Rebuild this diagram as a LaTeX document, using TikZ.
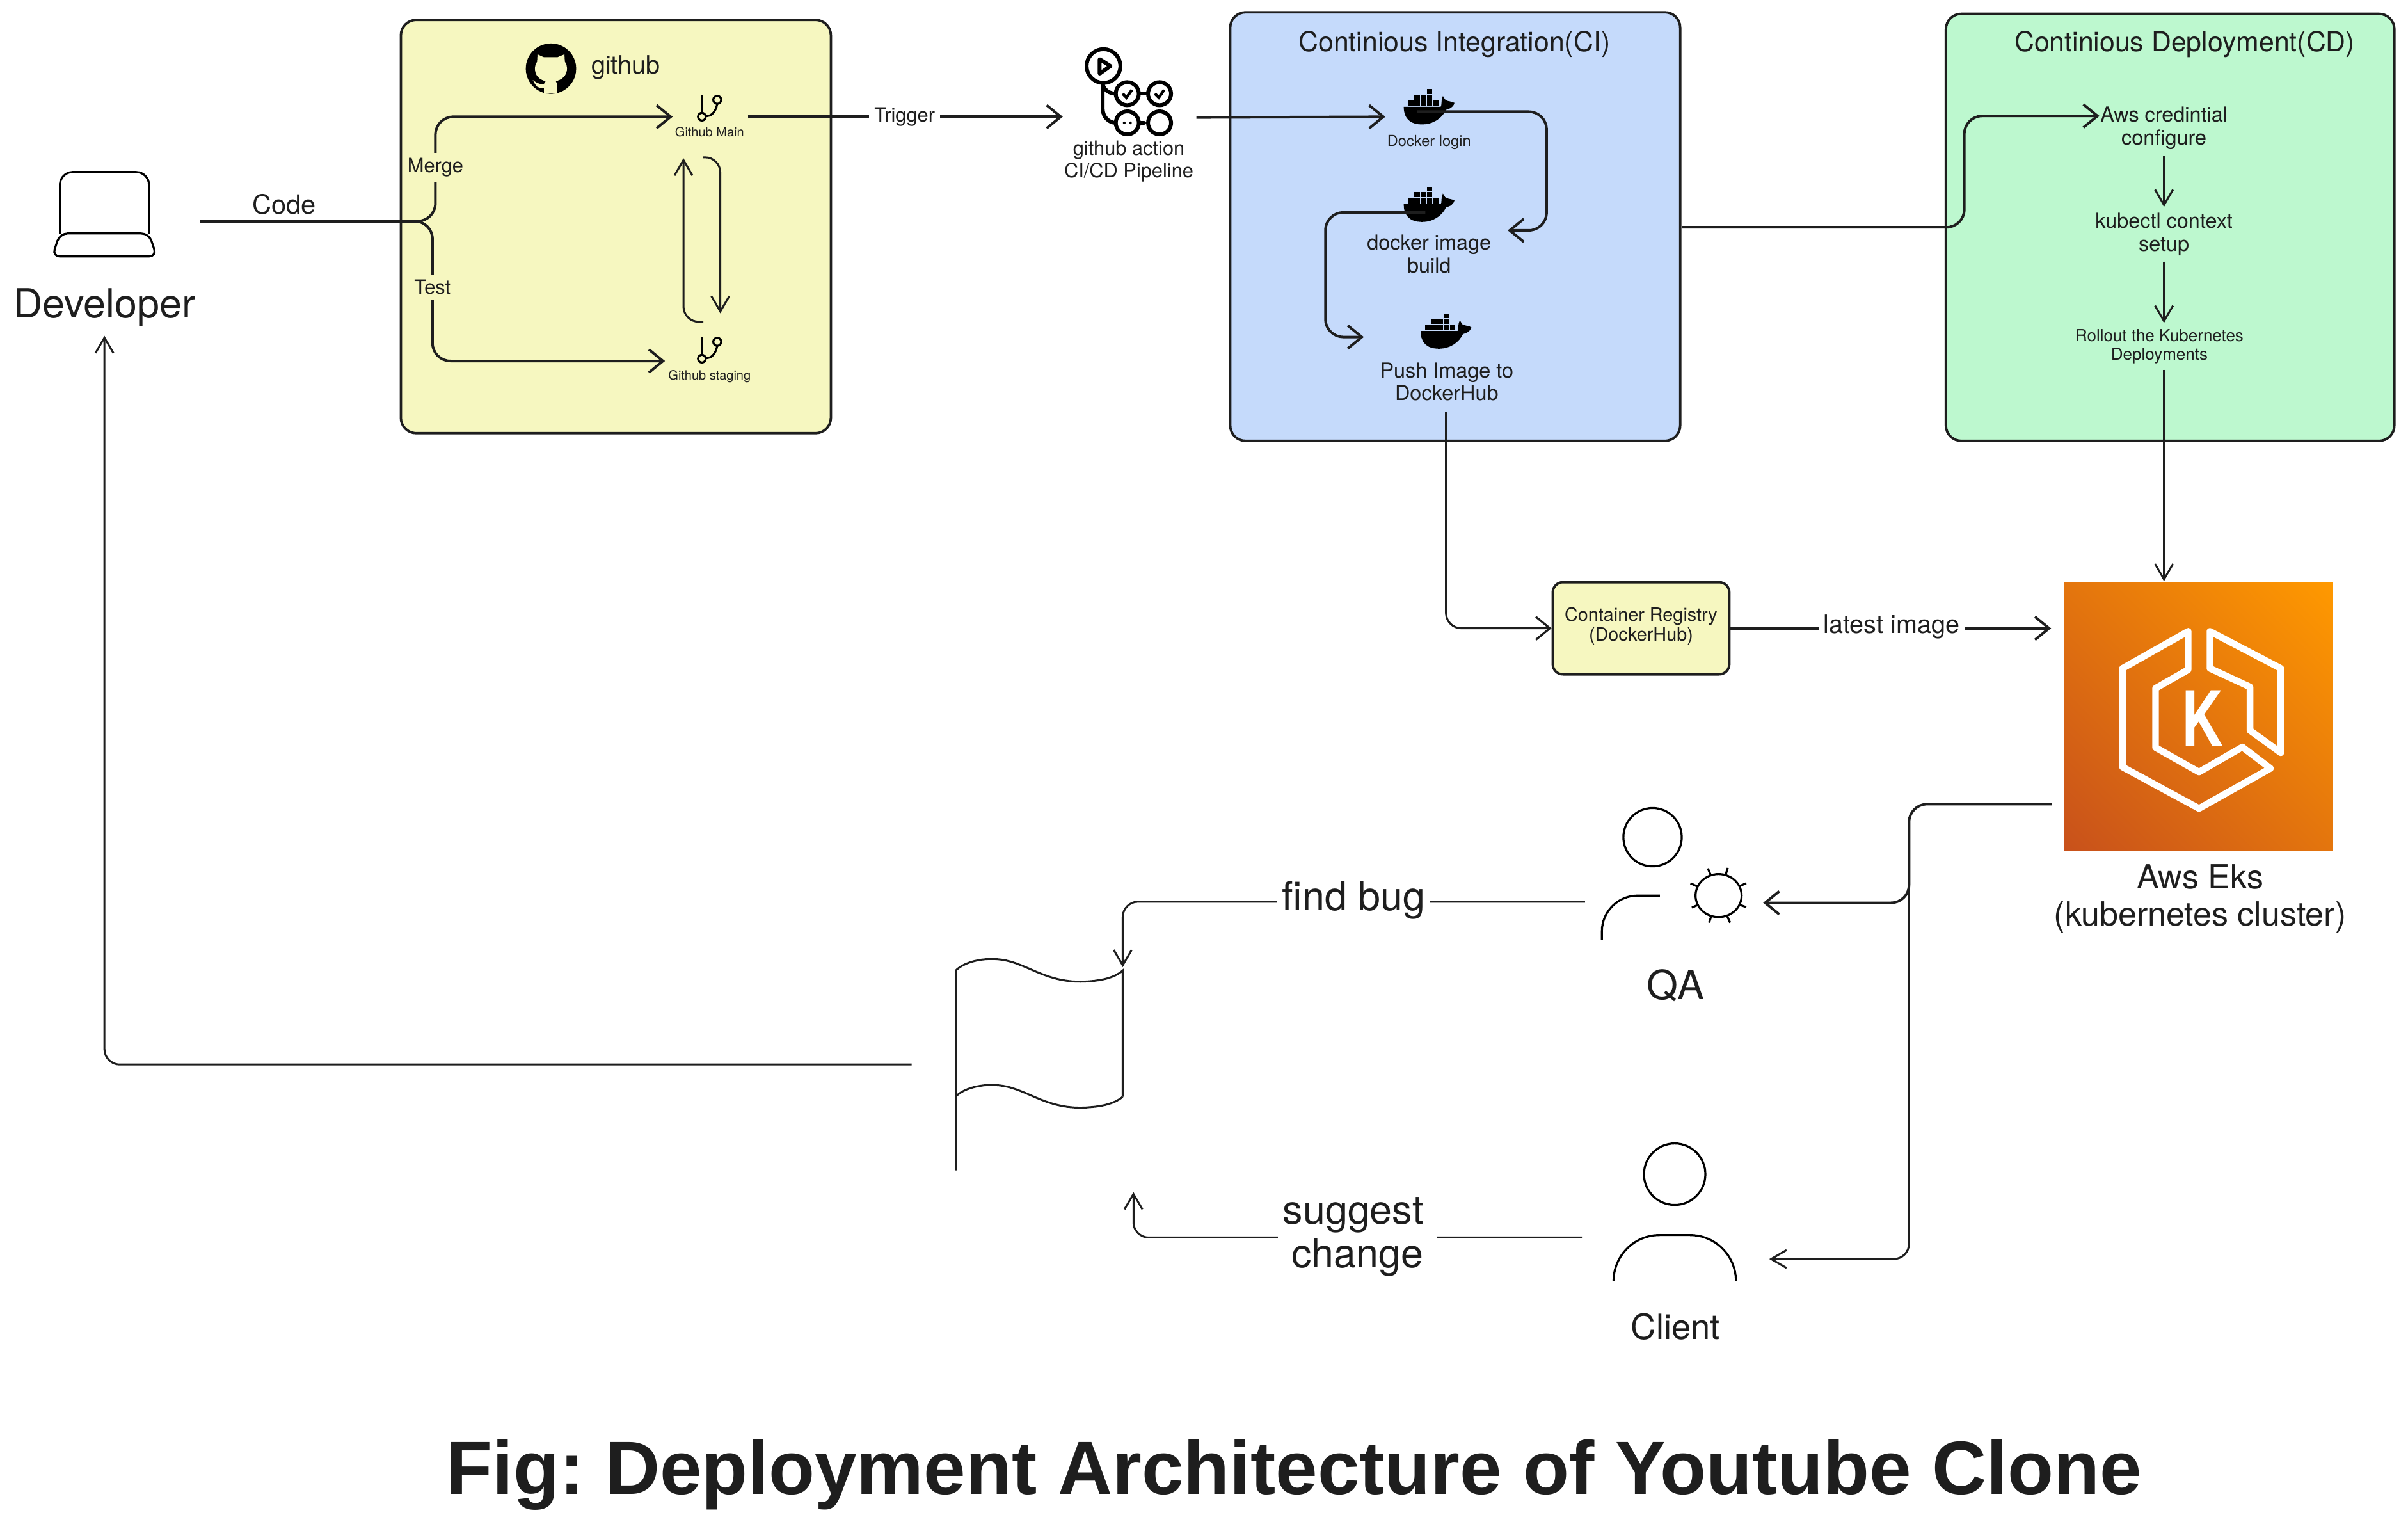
\documentclass[tikz,border=0pt]{standalone}
\usepackage{fontspec}
\setmainfont{TeX Gyre Heros}
\newfontfamily\titlefont{Liberation Sans}
\usetikzlibrary{arrows.meta}
\definecolor{inkcol}{HTML}{1E1E1E}
\definecolor{panelyellow}{HTML}{F6F7C0}
\definecolor{panelblue}{HTML}{C5DAFB}
\definecolor{panelgreen}{HTML}{BDF8CF}
\definecolor{awslow}{HTML}{C8511B}
\definecolor{awshigh}{HTML}{FF9900}
\pgfdeclareverticalshading{eksramp}{100bp}{color(0bp)=(awslow); color(14.6bp)=(awslow); color(85.4bp)=(awshigh); color(100bp)=(awshigh)}
\frenchspacing
\tikzset{every picture/.style={line width=0.75pt}}
\tikzset{
	panel/.style={draw=inkcol,line width=0.95pt,rounded corners=6pt,inner sep=0pt},
	wire/.style={draw=inkcol,line width=1pt,rounded corners=7pt},
	wirearrow/.style={wire,-{Straight Barb[length=5.5pt,width=9pt,line width=1pt]}},
	thinwire/.style={draw=inkcol,line width=0.75pt,rounded corners=6pt},
	thinarrow/.style={thinwire,-{Straight Barb[length=6pt,width=7pt,line width=0.75pt]}},
	sketch/.style={draw=black,line width=0.8pt},
	iconline/.style={draw=black,line width=1.5pt,line cap=round},
	tag/.style={text=inkcol,inner sep=2pt,align=center},
	tagsizea/.style={tag,font=\fontsize{15.7}{17}\selectfont},
	tagsizeb/.style={tag,font=\fontsize{13.6}{15}\selectfont},
	tagsizec/.style={tag,font=\fontsize{13}{14.4}\selectfont},
	tagsized/.style={tag,font=\fontsize{10.7}{12}\selectfont},
	tagsizee/.style={tag,font=\fontsize{9.9}{12}\selectfont},
	tagsizef/.style={tag,font=\fontsize{8.1}{8.9}\selectfont},
	tagsizeg/.style={tag,font=\fontsize{7.7}{9}\selectfont},
	tagsizeh/.style={tag,font=\fontsize{7.2}{7.8}\selectfont},
	tagsizei/.style={tag,font=\fontsize{7.7}{8.7}\selectfont},
	tagsizej/.style={tag,font=\fontsize{5.9}{7}\selectfont},
	tagsizek/.style={tag,font=\fontsize{5}{6}\selectfont},
	tagsizel/.style={tag,font=\fontsize{6.5}{7.4}\selectfont},
	whale/.pic={
		\begin{scope}[yscale=-1]
		\fill [black] (0,11.5) -- (24,11.5) .. controls (25,11) and (24,7) .. (25.5,4.5) .. controls (26.5,6) and (27,7.5) .. (28,7.5) .. controls (29,8) and (31,8) .. (33,9) .. controls (32,12.5) and (29,13) .. (27.5,13.5) .. controls (25,19) and (19,23) .. (12,23) .. controls (4,23) and (0,19) .. (0,11.5) -- cycle;
		\fill [black] (3,7.3) rectangle (6.6,10.8);
		\fill [black] (7,7.3) rectangle (10.6,10.8);
		\fill [black] (11,7.3) rectangle (14.6,10.8);
		\fill [black] (15,7.3) rectangle (18.6,10.8);
		\fill [black] (19,7.3) rectangle (22.6,10.8);
		\fill [black] (7,3.5) rectangle (10.6,6.9);
		\fill [black] (11,3.5) rectangle (14.6,6.9);
		\fill [black] (15,3.5) rectangle (18.6,6.9);
		\fill [black] (15,0) rectangle (18.6,3.1);
		\end{scope}
	},
	gitbranch/.pic={
		\begin{scope}[yscale=-1]
		\draw [sketch] (0,-14) -- (0,-2.5);
		\draw [sketch] (0,0) circle [radius=2.5];
		\draw [sketch] (10,-11) circle [radius=2.6];
		\draw [sketch] (10,-8.4) .. controls (9,-3) and (6,0) .. (2.4,-0.5);
		\end{scope}
	}
}

\begin{document}
\begin{tikzpicture}[x=0.6pt,y=0.6pt,yscale=-1,xscale=1]
\useasboundingbox (0,0) rectangle (1567.9,996.25);

% Panels
\draw (401,147.5) node [panel,fill=panelyellow,minimum width=168pt,minimum height=161.4pt] (githubbox) {};
\draw (947.5,147.5) node [panel,fill=panelblue,minimum width=175.8pt,minimum height=167.4pt] (cibox) {};
\draw (1413,148) node [panel,fill=panelgreen,minimum width=175.2pt,minimum height=166.8pt] (cdbox) {};
\draw (1068.5,409) node [panel,fill=panelyellow,rounded corners=4pt,minimum width=69pt,minimum height=36pt] (registry) {};
\draw (1431.5,466.5) node [minimum width=105pt,minimum height=105pt,inner sep=0pt,shading=eksramp,shading angle=-45] (eks) {};

% Laptop
\draw [sketch,rounded corners=5pt] (39,152) -- (39,112) -- (97,112) -- (97,152);
\draw [sketch,rounded corners=3pt] (68,167) -- (34,167) -- (39,152) -- (97,152) -- (102,167) -- cycle;

% Github mark
\fill [black] (358.75,44.7) circle [radius=16.4];
\fill [panelyellow] (350,35.4) -- (353.9,37.2) -- (363.2,37.2) -- (367.5,35.4) -- (367.8,40.3) .. controls (368.8,41.5) and (369.2,43) .. (369.2,44.4) .. controls (369.2,49) and (366,52) .. (361.8,52.8) .. controls (362.6,54) and (362.8,55) .. (362.8,60.7) -- (354.2,60.7) -- (354.2,57.2) .. controls (350,58) and (349,56) .. (346.9,52.1) .. controls (349,53.5) and (350,55) .. (354.2,54.8) .. controls (354.2,54) and (354.6,53.5) .. (355.5,52.8) .. controls (351,52) and (348.3,49) .. (348.3,44.4) .. controls (348.3,43) and (348.7,41.5) .. (349.7,40.3) -- cycle;

% Branch icons
\draw (457,76) pic {gitbranch};
\draw (457,233.5) pic {gitbranch};

% Action icon
\draw [iconline] (718.5,43) circle [radius=11];
\draw [iconline,line join=round] (716,38.5) -- (723,43) -- (716,48) -- cycle;
\draw [iconline] (734,61) circle [radius=7.5];
\draw [iconline] (755,61) circle [radius=7.5];
\draw [iconline] (734,80) circle [radius=7.5];
\draw [iconline] (755,80) circle [radius=7.5];
\draw [iconline] (741.5,61) -- (747.5,61);
\draw [iconline] (741.5,80) -- (745,80);
\draw [iconline] (718,54) -- (718,71) .. controls (718,76) and (722,80) .. (726.5,80);
\draw [iconline] (718,54) .. controls (718,58) and (722,61) .. (726.5,61);
\draw [draw=black,line width=1.1pt] (731,61) -- (733.5,63.5) -- (737,58.5);
\draw [draw=black,line width=1.1pt] (752,61) -- (754.5,63.5) -- (758,58.5);
\fill [black] (732,80) circle [radius=0.9];
\fill [black] (736,80) circle [radius=0.9];

% Whales
\draw (914,58) pic {whale};
\draw (914,121.5) pic {whale};
\draw (925,204) pic {whale};

% Eks icon
\draw [draw=white,line width=2.6pt,line join=round] (1424.7,411) -- (1382,435.1) -- (1382,499.3) -- (1431.8,526.3) -- (1478.3,500.2) -- (1460,486.3) -- (1431.8,502.6) -- (1403.5,486.6) -- (1403.5,448.1) -- (1424.7,436) -- cycle;
\draw [draw=white,line width=2.6pt,line join=round] (1438.9,411) -- (1485,435.1) -- (1485,490) -- (1465,475.5) -- (1465,447.2) -- (1438.9,435.1) -- cycle;

% Actors
\draw [sketch] (1076,545) circle [radius=19];
\draw [sketch,rounded corners=14pt] (1080.8,583) -- (1043,583) -- (1043,611.8);
\draw [sketch] (1119,583) circle [x radius=15,y radius=14];
\draw [sketch] (1112,565.3) -- (1114,570);
\draw [sketch] (1125,565) -- (1123.6,569.4);
\draw [sketch] (1132.7,576.8) -- (1137,575);
\draw [sketch] (1100.7,575) -- (1105,577);
\draw [sketch] (1101.6,590.8) -- (1105.7,589);
\draw [sketch] (1132.7,589) -- (1137,590.5);
\draw [sketch] (1112.8,600.6) -- (1114.4,596);
\draw [sketch] (1126.5,600.6) -- (1124.4,596);
\draw [sketch] (1090.4,764.4) circle [radius=20];
\draw [sketch,rounded corners=18pt] (1050.6,834) -- (1050.6,804) -- (1130.3,804) -- (1130.3,834);

% Flag
\draw [thinwire,rounded corners=0pt] (622.3,761.9) -- (622.3,631.8) .. controls (628,626) and (640,623.5) .. (650,624.5) .. controls (668,626) and (680,640) .. (706,639) .. controls (716,638.5) and (725,637) .. (731,631.8) -- (731,714);
\draw [thinwire,rounded corners=0pt] (622.3,713.8) .. controls (628,708) and (640,705.5) .. (650,706.5) .. controls (668,708) and (680,722) .. (706,721) .. controls (716,720.5) and (725,719) .. (731,714);

% Anchors
\coordinate (laptopout) at (130,144);
\coordinate (junction) at (274,144);
\coordinate (mergepos) at (283.5,109);
\coordinate (testpos) at (281.6,187);
\coordinate (mainin) at (438,76);
\coordinate (stagingin) at (433,235);
\coordinate (mainout) at (487,76);
\coordinate (actionin) at (692,76);
\coordinate (actionout) at (779,76.5);
\coordinate (loginin) at (902,76);
\coordinate (loginout) at (922.5,72.7);
\coordinate (buildin) at (981.7,150);
\coordinate (buildout) at (928,138.3);
\coordinate (pushin) at (888,219.4);
\coordinate (pushout) at (941.5,268);
\coordinate (ciout) at (1095,148);
\coordinate (credin) at (1367,75.5);
\coordinate (eksin) at (1335.5,409);
\coordinate (eksout) at (1336,523.5);
\coordinate (fork) at (1243,560);
\coordinate (qain) at (1148,587.7);
\coordinate (clientin) at (1152,819.6);
\coordinate (qaout) at (1032,587);
\coordinate (flagtop) at (731,629.6);
\coordinate (clientout) at (1030,805.6);
\coordinate (flagbottom) at (738,776);
\coordinate (flagout) at (593.6,693);

% Connectors
\draw [wire] (laptopout) -- (junction);
\draw [wirearrow] (junction) -| (mergepos) |- (mainin);
\draw [wirearrow] (junction) -| (testpos) |- (stagingin);
\draw [thinarrow] (458,209.5) -| (445,103);
\draw [thinarrow] (458,102.4) -| (469,204);
\draw [wirearrow] (mainout) -- (actionin);
\draw [wirearrow] (actionout) -- (loginin);
\draw [wirearrow] (loginout) -- (1007,72.7) |- (buildin);
\draw [wirearrow] (buildout) -- (863,138.3) |- (pushin);
\draw [thinwire,-{Straight Barb[length=5.5pt,width=9pt,line width=0.8pt]}] (pushout) |- (registry.west);
\draw [wirearrow] (ciout) -- (1279,148) -- (1279,75.5) -- (credin);
\draw [wirearrow] (registry.east) -- (eksin);
\draw [wirearrow] (eksout) -| (fork) |- (qain);
\draw [thinarrow] (fork) |- (clientin);
\draw [thinarrow] (qaout) -- (731,587) -- (flagtop);
\draw [thinarrow] (clientout) -- (738,805.6) -- (flagbottom);
\draw [thinarrow] (flagout) -- (68,693) -- (68,218.6);

% Text Node
\draw (68,200) node [tagsizea] (developer) {Developer};
\draw (185,133) node [tagsized,font=\fontsize{10.4}{12}\selectfont] (code) {Code};
\draw (407.5,44) node [tagsizee] (github) {github};
\draw (mergepos) node [tagsizeg,fill=panelyellow] (merge) {Merge};
\draw (testpos) node [tagsizeg,fill=panelyellow] (test) {Test};
\draw (462,86) node [tagsizek] (githubmain) {Github Main};
\draw (462,245) node [tagsizek] (githubstaging) {Github staging};
\draw (589,76) node [tagsizeg,fill=white] (trigger) {Trigger};
\draw (735,105) node [tagsizei] (action) {github action\\CI/CD Pipeline};
\draw (947,29) node [tagsized] (cititle) {Continious Integration(CI)};
\draw (930.5,92.8) node [tagsizej] (login) {Docker login};
\draw (930.5,165.5) node [tagsizef] (build) {docker image\\build};
\draw (942,248.5) node [tagsizef] (push) {Push Image to\\DockerHub};
\draw (1422.5,29) node [tagsized] (cdtitle) {Continious Deployment(CD)};
\draw (1409,83.5) node [tagsizef] (credential) {Aws credintial\\configure};
\draw (1409,152.5) node [tagsizef] (kubectl) {kubectl context\\setup};
\draw (1406,225.5) node [tagsizel] (rollout) {Rollout the Kubernetes\\Deployments};
\draw (1068.5,407.5) node [tagsizeh] (registrytext) {Container Registry\\(DockerHub)};
\draw (1231.6,408) node [tagsizee,fill=white] (latest) {latest image};
\draw (1432.5,585) node [tagsizec] (ekstext) {Aws Eks\\(kubernetes cluster)};
\draw (881.5,586) node [tagsizea,fill=white] (findbug) {find bug};
\draw (1091,641.5) node [tagsizea] (qa) {QA};
\draw (883.9,805) node [tagsizea,fill=white,align=right] (suggest) {suggest\hspace*{3.4pt}\\change\hspace*{3.4pt}};
\draw (1091,863.8) node [tagsizeb] (client) {Client};
\draw (1434,468) node [inner sep=0pt,text=white,font=\fontsize{30}{30}\selectfont\bfseries] (eksk) {\scalebox{0.75}[1]{K}};
\draw (842.5,960) node [text=inkcol,inner sep=0pt,font=\titlefont\bfseries\fontsize{29.46}{32}\selectfont] (figtitle) {Fig: Deployment Architecture of Youtube Clone};

% Arrows inside the deployment panel
\draw [thinarrow] (credential.south) -- (kubectl.north);
\draw [thinarrow] (kubectl.south) -- (kubectl.south |- rollout.north);
\draw [thinarrow] (kubectl.south |- rollout.south) -- (eks.north -| kubectl.south);
\end{tikzpicture}
\end{document}
